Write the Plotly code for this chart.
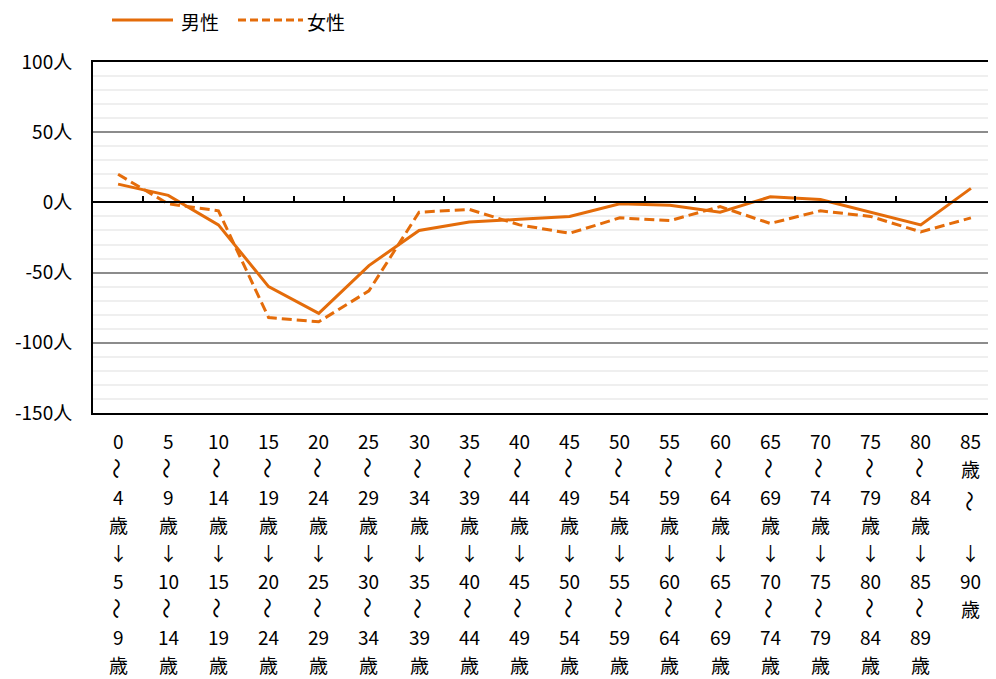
import plotly.graph_objects as go

categories = ["0～4歳→5～9歳", "5～9歳→10～14歳", "10～14歳→15～19歳", "15～19歳→20～24歳",
              "20～24歳→25～29歳", "25～29歳→30～34歳", "30～34歳→35～39歳", "35～39歳→40～44歳",
              "40～44歳→45～49歳", "45～49歳→50～54歳", "50～54歳→55～59歳", "55～59歳→60～64歳",
              "60～64歳→65～69歳", "65～69歳→70～74歳", "70～74歳→75～79歳", "75～79歳→80～84歳",
              "80～84歳→85～89歳", "85歳～→90歳～"]
male = [13, 5, -16, -60, -79, -45, -20, -14, -12, -10, -1, -2, -7, 4, 2, -7, -16, 10]
female = [20, -1, -6, -82, -85, -63, -7, -5, -16, -22, -11, -13, -3, -15, -6, -10, -21, -11]
tick_labels = [
    ["0", "～", "4", "歳", "↓", "5", "～", "9", "歳"],
    ["5", "～", "9", "歳", "↓", "10", "～", "14", "歳"],
    ["10", "～", "14", "歳", "↓", "15", "～", "19", "歳"],
    ["15", "～", "19", "歳", "↓", "20", "～", "24", "歳"],
    ["20", "～", "24", "歳", "↓", "25", "～", "29", "歳"],
    ["25", "～", "29", "歳", "↓", "30", "～", "34", "歳"],
    ["30", "～", "34", "歳", "↓", "35", "～", "39", "歳"],
    ["35", "～", "39", "歳", "↓", "40", "～", "44", "歳"],
    ["40", "～", "44", "歳", "↓", "45", "～", "49", "歳"],
    ["45", "～", "49", "歳", "↓", "50", "～", "54", "歳"],
    ["50", "～", "54", "歳", "↓", "55", "～", "59", "歳"],
    ["55", "～", "59", "歳", "↓", "60", "～", "64", "歳"],
    ["60", "～", "64", "歳", "↓", "65", "～", "69", "歳"],
    ["65", "～", "69", "歳", "↓", "70", "～", "74", "歳"],
    ["70", "～", "74", "歳", "↓", "75", "～", "79", "歳"],
    ["75", "～", "79", "歳", "↓", "80", "～", "84", "歳"],
    ["80", "～", "84", "歳", "↓", "85", "～", "89", "歳"],
    ["85", "歳", "～", "", "↓", "90", "歳", "", ""],
]
y_tickvals = [100, 50, 0, -50, -100, -150]
y_ticktext = ["100人", "50人", "0人", "-50人", "-100人", "-150人"]
series_names = ["男性", "女性"]

COLOR = "#E46C0A"
FONT = "Noto Sans CJK JP"
xs = list(range(len(categories)))

fig = go.Figure()
fig.add_trace(go.Scatter(x=xs, y=male, mode="lines", name=series_names[0],
                         line=dict(color=COLOR, width=3), showlegend=False))
fig.add_trace(go.Scatter(x=xs, y=female, mode="lines", name=series_names[1],
                         line=dict(color=COLOR, width=3, dash="10px,5px"), showlegend=False))
# invisible trace for the zero-line axis
fig.add_trace(go.Scatter(x=[0], y=[0], xaxis="x2", mode="markers",
                         marker=dict(opacity=0), hoverinfo="skip", showlegend=False))

annotations = []
for i, rows in enumerate(tick_labels):
    for r, t in enumerate(rows):
        if not t:
            continue
        rr = r
        angle = 0
        size = 19
        if t == "～":
            angle = 90
            size = 21
            if i == len(tick_labels) - 1:
                rr = 2.2
        annotations.append(dict(x=i, xref="x", y=0, yref="paper", yshift=-(27 + 28 * rr),
                                text=t, showarrow=False, xanchor="center", yanchor="middle",
                                textangle=angle, borderpad=0,
                                font=dict(family=FONT, size=size, color="black")))

# custom legend
legend_items = [(19, 80, 87, "solid"), (145, 210, 213, "8px,4px")]
shapes = []
for (x0, x1, tx, dash), name in zip(legend_items, series_names):
    shapes.append(dict(type="line", xref="paper", yref="paper", xsizemode="pixel", ysizemode="pixel",
                       xanchor=0, yanchor=1, x0=x0, x1=x1, y0=42, y1=42,
                       line=dict(color=COLOR, width=3, dash=dash)))
    annotations.append(dict(x=0, xref="paper", y=1, yref="paper", xshift=tx, yshift=41,
                            text=name, showarrow=False, xanchor="left", yanchor="middle",
                            borderpad=0, font=dict(family=FONT, size=19, color="black")))

# the page body adds an 8px offset, so margins compensate for it
fig.update_layout(
    width=996, height=679,
    margin=dict(l=85, r=8, t=54, b=274),
    paper_bgcolor="white", plot_bgcolor="white",
    font=dict(family=FONT, size=19, color="black"),
    xaxis=dict(range=[-0.5, len(categories) - 0.5], showticklabels=False, ticks="",
               showgrid=False, zeroline=False, showline=True, linecolor="black",
               linewidth=2, mirror=True, fixedrange=True, automargin=False),
    xaxis2=dict(overlaying="x", matches="x", anchor="free", position=0.6, side="bottom",
                showline=True, linecolor="black", linewidth=2, ticks="inside", ticklen=5,
                tickwidth=1.5, tickcolor="black", automargin=False,
                tickvals=[i + 0.5 for i in xs[:-1]], showticklabels=False, showgrid=False,
                zeroline=False),
    yaxis=dict(range=[-150, 100], tickvals=y_tickvals, ticktext=y_ticktext,
               showgrid=True, gridcolor="#8C8C8C", gridwidth=1.5,
               minor=dict(dtick=10, tick0=0, showgrid=True, gridcolor="#EFEFEF", gridwidth=1.5),
               zeroline=False, showline=True, linecolor="black", linewidth=2,
               ticks="", ticklabelstandoff=15, tickfont=dict(family=FONT, size=19, color="black"),
               fixedrange=True, automargin=False),
    annotations=annotations,
    shapes=shapes,
)

fig.write_html("out.html")
